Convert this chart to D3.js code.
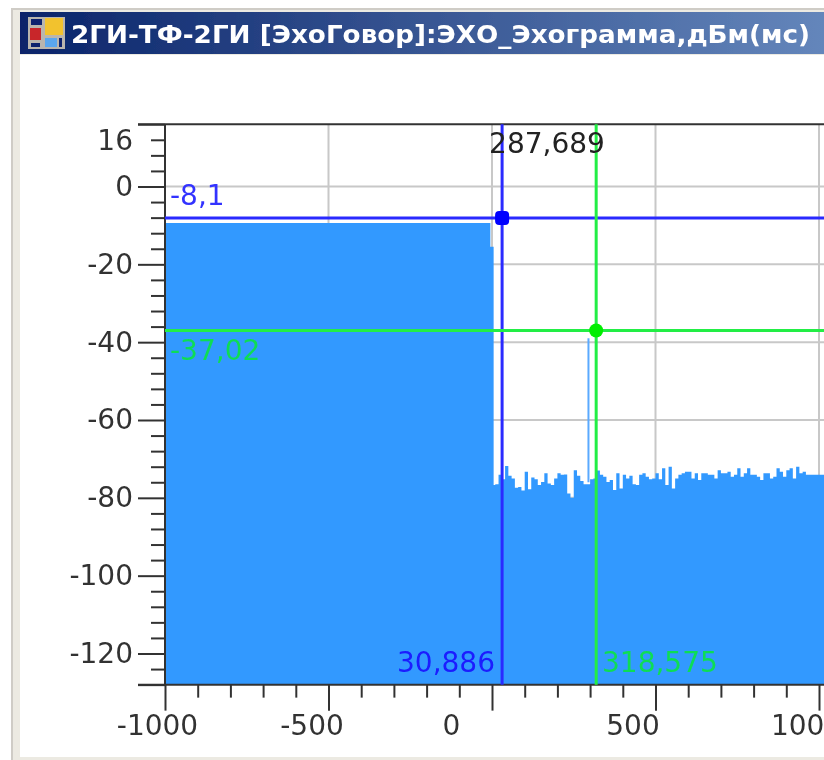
<!DOCTYPE html>
<html>
<head>
<meta charset="utf-8">
<script src="https://cdn.jsdelivr.net/npm/d3@7"></script>
<style>
  html, body { margin: 0; padding: 0; background: #fff; overflow: hidden; }
  text { font-family: "DejaVu Sans", sans-serif; }
</style>
</head>
<body>
<div id="wrapper"></div>
<script>
const titleText = "2ГИ-ТФ-2ГИ [ЭхоГовор]:ЭХО_Эхограмма,дБм(мс)";

// y axis
const yMajorTicks = [0, -20, -40, -60, -80, -100, -120];
const yMinorTicks = [12, 8, 4, -4, -8, -12, -16, -24, -28, -32, -36, -44, -48, -52, -56, -64, -68, -72, -76, -84, -88, -92, -96, -104, -108, -112, -116, -124];
const yEdgeTicks = [16, -128];
const yGridLines = [0, -20, -40, -60, -80];

// x axis
const xMajorTicks = [-1000, -500, 0, 500, 1000];
const xMinorTicks = [-900, -800, -700, -600, -400, -300, -200, -100, 100, 200, 300, 400, 600, 700, 800, 900];
const xGridLines = [-500, 0, 500, 1000];

// echogram: the level part, then the noise floor
const edgeTimes = [-1000, -5];
const edgeLevels = [-9.4, -15.5];
const echoTimes = [5, ...d3.range(10, 1020, 10), 1030];
const echoLevels = [
  -76.7, -76.5, -74.1, -75.2, -71.8, -74.3, -75, -77.4, -77.2, -78.1,
  -73.3, -77.8, -74.8, -75.2, -76.7, -75.9, -73.7, -76.3, -76.7, -75,
  -73.7, -74.1, -74, -78.9, -80, -72.9, -74.3, -75.7, -76.5, -76.5,
  -75.2, -75, -73, -74.1, -74.6, -75.9, -75.4, -78, -73.7, -77.6,
  -74.1, -75, -74.3, -76.5, -76.7, -74.1, -73.7, -74.6, -75.2, -75,
  -73.7, -75.2, -72.4, -76.7, -72, -77.6, -75, -74.1, -73.7, -73.3,
  -73.3, -75, -73.7, -75.4, -73.7, -73.7, -74.1, -74.1, -75, -72.9,
  -73.7, -73.7, -73.3, -74.6, -74.1, -72.4, -74.6, -73.7, -72.4, -74.1,
  -74.1, -74.6, -75.4, -73.7, -73.7, -75, -74.6, -72.4, -73.3, -74.6,
  -72.9, -72.4, -75, -72, -73.7, -73.3, -74.1, -74.1, -74.1, -74.1,
  -74.1, -74.1, -74.1
];
const spikeTimes = [295];
const spikeLevels = [-39];

// cursors
const blueCursor = { time: 30.886, level: -8.1 };
const greenCursor = { time: 318.575, level: -37.02 };
const deltaLabel = "287,689";

const dimensions = { width: 824, height: 760 };

const xScale = d3.scaleLinear().domain([-1000, 1000]).range([165, 819]);
const yScale = d3.scaleLinear().domain([0, -120]).range([186.5, 653.5]);
const plotTop = yScale(16);
const plotBottom = yScale(-128);
const plotLeft = xScale(-1000);
const plotRight = dimensions.width;

const svg = d3.select("#wrapper").append("svg")
  .attr("width", dimensions.width)
  .attr("height", dimensions.height)
  .style("display", "block");

const defs = svg.append("defs");
const titleGradient = defs.append("linearGradient").attr("id", "titleGradient");
titleGradient.append("stop").attr("offset", "0%").attr("stop-color", "#0a246a");
titleGradient.append("stop").attr("offset", "100%").attr("stop-color", "#6486bb");
defs.append("filter").attr("id", "soft")
  .attr("x", "-5%").attr("y", "-5%").attr("width", "110%").attr("height", "110%")
  .append("feGaussianBlur").attr("stdDeviation", 0.7);

const page = svg.append("g").attr("filter", "url(#soft)");

// window frame
page.append("rect").attr("x", 11).attr("y", 8).attr("width", 813).attr("height", 752).attr("fill", "#eceae2");
page.append("rect").attr("x", 11).attr("y", 8).attr("width", 813).attr("height", 2).attr("fill", "#cfccc6");
page.append("rect").attr("x", 11).attr("y", 8).attr("width", 2).attr("height", 752).attr("fill", "#cfccc6");
page.append("rect").attr("x", 20).attr("y", 55).attr("width", 804).attr("height", 702).attr("fill", "#fff");
page.append("rect").attr("x", 20).attr("y", 12).attr("width", 804).attr("height", 42).attr("fill", "url(#titleGradient)");

// title icon
const icon = page.append("g").attr("transform", "translate(28,17)");
icon.append("rect").attr("width", 37).attr("height", 32).attr("fill", "#b9b5ae");
icon.append("rect").attr("x", 3).attr("y", 2).attr("width", 11).attr("height", 6).attr("fill", "#10246e");
icon.append("rect").attr("x", 2).attr("y", 11).attr("width", 11).attr("height", 12).attr("fill", "#c8262a");
icon.append("rect").attr("x", 17).attr("y", 1).attr("width", 18).attr("height", 17).attr("fill", "#f2c22e");
icon.append("rect").attr("x", 17).attr("y", 21).attr("width", 12).attr("height", 9).attr("fill", "#5aa6ee");
icon.append("rect").attr("x", 3).attr("y", 26).attr("width", 9).attr("height", 4).attr("fill", "#10246e");
icon.append("rect").attr("x", 31).attr("y", 21).attr("width", 3).attr("height", 9).attr("fill", "#10246e");

page.append("text")
  .attr("x", 71).attr("y", 43)
  .attr("font-size", 25).attr("font-weight", "bold")
  .attr("fill", "#fff")
  .attr("textLength", 739).attr("lengthAdjust", "spacingAndGlyphs")
  .text(titleText);

// grid
const grid = page.append("g").attr("stroke", "#c8c8c8").attr("stroke-width", 2);
grid.selectAll("line.v").data(xGridLines).join("line").attr("class", "v")
  .attr("x1", d => xScale(d)).attr("x2", d => xScale(d))
  .attr("y1", plotTop).attr("y2", plotBottom);
grid.selectAll("line.h").data(yGridLines).join("line").attr("class", "h")
  .attr("x1", plotLeft).attr("x2", plotRight)
  .attr("y1", d => yScale(d)).attr("y2", d => yScale(d));

// echogram fill
const echoData = [
  ...edgeTimes.map((t, i) => ({ t, v: edgeLevels[i] })),
  ...echoTimes.map((t, i) => ({ t, v: echoLevels[i] })),
];
const areaGenerator = d3.area()
  .x(d => xScale(d.t))
  .y0(plotBottom)
  .y1(d => yScale(d.v))
  .curve(d3.curveStepAfter);
page.append("path")
  .attr("d", areaGenerator(echoData))
  .attr("fill", "#3399ff");
page.selectAll("line.spike").data(spikeTimes).join("line").attr("class", "spike")
  .attr("x1", d => xScale(d)).attr("x2", d => xScale(d))
  .attr("y1", (d, i) => yScale(spikeLevels[i])).attr("y2", yScale(-76))
  .attr("stroke", "#5aaaff").attr("stroke-width", 2);

// axes
function styleAxis(g) {
  g.select(".domain").remove();
  g.selectAll("line").attr("stroke", "#333").attr("stroke-width", 2);
  g.selectAll("text").attr("fill", "#333").attr("font-size", 28).attr("font-family", '"DejaVu Sans", sans-serif');
}

// plain hyphen and no thousands separator, as in the original
const plainLabel = d => String(d);

const yAxisMinor = d3.axisLeft(yScale).tickValues(yMinorTicks).tickSize(14).tickFormat("");
const yAxisMajor = d3.axisLeft(yScale).tickValues(yMajorTicks).tickSize(27).tickPadding(5).tickFormat(plainLabel);
const yAxisEdge = d3.axisLeft(yScale).tickValues(yEdgeTicks).tickSize(27).tickFormat("");
page.append("g").attr("transform", `translate(${plotLeft},0)`).call(yAxisMinor).call(styleAxis);
page.append("g").attr("transform", `translate(${plotLeft},0)`).call(yAxisMajor).call(styleAxis);
page.append("g").attr("transform", `translate(${plotLeft},0)`).call(yAxisEdge).call(styleAxis);

// the top label sits on the first minor tick below the edge
page.append("text")
  .attr("x", 133).attr("y", yScale(12))
  .attr("dy", "0.36em").attr("text-anchor", "end")
  .attr("font-size", 28).attr("fill", "#333")
  .text("16");

const xLabelShift = new Map([[-1000, -8], [-500, -17], [0, -41], [500, -23], [1000, -13]]);
const xAxisMinor = d3.axisBottom(xScale).tickValues(xMinorTicks).tickSize(13).tickFormat("");
const xAxisMajor = d3.axisBottom(xScale).tickValues(xMajorTicks).tickSize(26).tickPadding(4).tickFormat(plainLabel);
page.append("g").attr("transform", `translate(0,${plotBottom})`).call(xAxisMinor).call(styleAxis);
page.append("g").attr("transform", `translate(0,${plotBottom})`).call(xAxisMajor).call(styleAxis)
  .selectAll("text").attr("dx", d => xLabelShift.get(d));

// plot frame
const frame = page.append("g").attr("stroke", "#333").attr("stroke-width", 2);
frame.append("line").attr("x1", 138).attr("x2", plotRight).attr("y1", plotTop).attr("y2", plotTop);
frame.append("line").attr("x1", 138).attr("x2", plotRight).attr("y1", plotBottom).attr("y2", plotBottom);
frame.append("line").attr("x1", plotLeft).attr("x2", plotLeft).attr("y1", plotTop).attr("y2", plotBottom);

// cursors
function drawCursor(cursor, color) {
  const cx = xScale(cursor.time);
  const cy = yScale(cursor.level);
  page.append("line").attr("x1", cx).attr("x2", cx).attr("y1", plotTop).attr("y2", plotBottom)
    .attr("stroke", color).attr("stroke-width", 3);
  page.append("line").attr("x1", plotLeft).attr("x2", plotRight).attr("y1", cy).attr("y2", cy)
    .attr("stroke", color).attr("stroke-width", 3);
}
drawCursor(blueCursor, "#2a2aff");
drawCursor(greenCursor, "#22ee44");

page.append("rect")
  .attr("x", xScale(blueCursor.time) - 7).attr("y", yScale(blueCursor.level) - 7)
  .attr("width", 14).attr("height", 14).attr("rx", 4)
  .attr("fill", "#0000ff");
page.append("circle")
  .attr("cx", xScale(greenCursor.time)).attr("cy", yScale(greenCursor.level)).attr("r", 7)
  .attr("fill", "#00ee00");

// cursor labels
function cursorLabel(x, y, anchor, color, label) {
  page.append("text")
    .attr("x", x).attr("y", y).attr("dy", "0.36em")
    .attr("text-anchor", anchor)
    .attr("font-size", 28).attr("fill", color)
    .text(label);
}
cursorLabel(170, 195, "start", "#3333ff", "-8,1");
cursorLabel(170, 350, "start", "#11dd55", "-37,02");
cursorLabel(547, 143, "middle", "#222", deltaLabel);
cursorLabel(495, 662, "end", "#1a1aff", "30,886");
cursorLabel(602, 662, "start", "#11dd55", "318,575");
</script>
</body>
</html>
